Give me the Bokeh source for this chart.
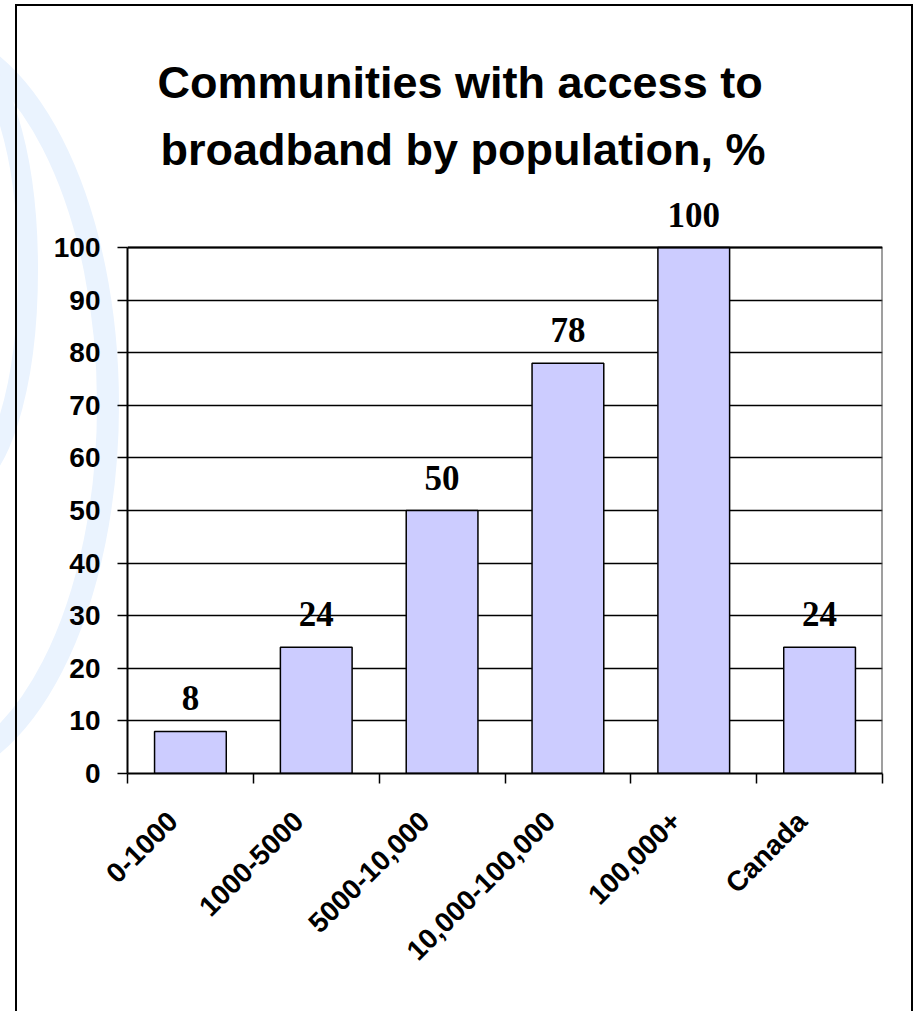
import numpy as np
from urllib.parse import quote
from bokeh.plotting import figure
from bokeh.models import (Range1d, FixedTicker, LabelSet, Title, Span,
                          ColumnDataSource)
from bokeh.core.properties import value
from bokeh.embed import file_html
from bokeh.resources import INLINE

# ---- data ----
categories = ["0-1000", "1000-5000", "5000-10,000", "10,000-100,000", "100,000+", "Canada"]
values = [8, 24, 50, 78, 100, 24]
y_ticks = [0, 10, 20, 30, 40, 50, 60, 70, 80, 90, 100]
title_lines = ["Communities with access to", "broadband by population, %"]

n = len(categories)
x_pos = [i + 0.5 for i in range(n)]
src = ColumnDataSource(dict(x=x_pos, top=values, label=[str(v) for v in values]))

# ---- layout (pixels) ----
W, H = 914, 1011
FRAME_L, FRAME_R, FRAME_T, FRAME_B = 127, 882, 185, 773
AXIS_TOP_PX = 247          # where the value 100 sits
y_max = max(y_ticks)
y_end = y_max * (FRAME_B - FRAME_T) / (FRAME_B - AXIS_TOP_PX)

p = figure(width=W, height=H, output_backend="svg", toolbar_location=None,
           x_range=Range1d(0, n), y_range=Range1d(0, y_end),
           min_border_left=FRAME_L, min_border_right=W - FRAME_R,
           min_border_top=FRAME_T, min_border_bottom=H - FRAME_B,
           background_fill_color="white", border_fill_color=None,
           title_location=None)
p.outline_line_color = None

# ---- page ornament: light blue arcs and the chart-area frame (CSS background) ----
svg = ('<svg xmlns="http://www.w3.org/2000/svg" width="914" height="1011">'
       '<ellipse cx="-82" cy="405" rx="190" ry="370" fill="none" stroke="#EAF3FE" stroke-width="22"/>'
       '<ellipse cx="-40" cy="270" rx="68" ry="215" fill="none" stroke="#EAF3FE" stroke-width="20"/>'
       '<rect x="16" y="5" width="896" height="1040" fill="none" stroke="black" stroke-width="2"/>'
       '</svg>')
p.styles = {"background-image": 'url("data:image/svg+xml,' + quote(svg) + '")',
            "background-repeat": "no-repeat", "background-color": "white"}

# ---- bars ----
p.vbar(x="x", top="top", bottom=0, width=0.57, source=src,
       fill_color="#CCCCFF", line_color="black", line_width=1.5)

labels = LabelSet(x="x", y="top", text="label", source=src, y_offset=21,
                  text_align="center", text_baseline="alphabetic",
                  text_font=value("Liberation Serif"), text_font_style="bold",
                  text_font_size="35px", text_color="black")
p.add_layout(labels)

# plot-area border: top line at 100 and right edge
p.add_layout(Span(location=y_max, dimension="width", line_color="black", line_width=2))
p.segment(x0=[n], y0=[0], x1=[n], y1=[y_max], line_color="#404040", line_width=2)

# ---- axes ----
label_shift = 0.14
xa = p.xaxis[0]
xa.ticker = FixedTicker(ticks=[x - label_shift for x in x_pos], minor_ticks=list(range(n + 1)))
xa.major_label_overrides = {x - label_shift: c for x, c in zip(x_pos, categories)}
xa.major_tick_out = 0
xa.major_tick_in = 0
xa.minor_tick_out = 10
xa.minor_tick_in = 0
xa.minor_tick_line_color = "black"
xa.minor_tick_line_width = 1.5
xa.axis_line_color = "black"
xa.axis_line_width = 2
xa.major_label_orientation = np.pi / 4
xa.major_label_standoff = 33
xa.major_label_text_font = "Liberation Sans"
xa.major_label_text_font_style = "bold"
xa.major_label_text_font_size = "28px"
xa.major_label_text_color = "black"

ya = p.yaxis[0]
ya.ticker = FixedTicker(ticks=y_ticks)
ya.bounds = (0, y_max)
ya.major_tick_out = 10
ya.major_tick_in = 0
ya.minor_tick_out = 0
ya.minor_tick_in = 0
ya.major_tick_line_color = "black"
ya.major_tick_line_width = 1.5
ya.axis_line_color = "black"
ya.axis_line_width = 2
ya.major_label_standoff = 17
ya.major_label_text_font = "Liberation Sans"
ya.major_label_text_font_style = "bold"
ya.major_label_text_font_size = "28px"
ya.major_label_text_color = "black"

p.xgrid.visible = False
p.ygrid.ticker = FixedTicker(ticks=y_ticks)
p.ygrid.grid_line_color = "black"
p.ygrid.grid_line_width = 1.5

# ---- title (two lines, nearest-to-frame first) ----
for line, off, so in [(title_lines[1], 33, 22), (title_lines[0], 30, 6)]:
    p.add_layout(Title(text=line, align="left", offset=off, standoff=so,
                       text_font="Liberation Sans", text_font_style="bold",
                       text_font_size="45px", text_color="black"), "above")

open("out.html", "w").write(file_html(p, INLINE))
